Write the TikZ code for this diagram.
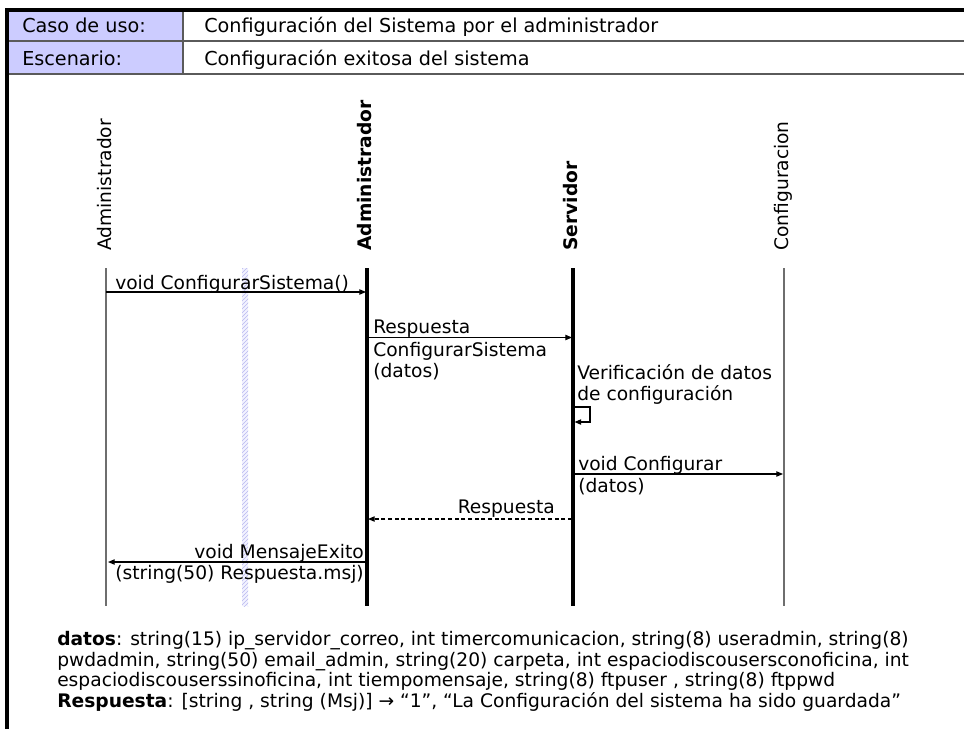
\documentclass[tikz,border=0pt]{standalone}
\usepackage{fontspec}
\setmainfont{DejaVu Sans}
\usetikzlibrary{arrows.meta,patterns}
\definecolor{hdrfill}{RGB}{204,204,255}
\definecolor{rulegray}{RGB}{90,90,90}
\definecolor{lifegray}{RGB}{110,110,110}
\definecolor{hatchblue}{RGB}{185,185,240}
\begin{document}
\begin{tikzpicture}[x=0.75pt,y=-0.75pt,
  txt/.style={inner sep=0pt,font=\fontsize{14}{16}\selectfont},
  hdr/.style={inner sep=0pt,font=\fontsize{14.4}{16}\selectfont,anchor=base west},
  lbl/.style={txt,rotate=90,anchor=base west},
  thinlife/.style={draw=lifegray,line width=0.9pt},
  thicklife/.style={draw=black,line width=2.3pt},
  msg/.style={draw=black,line width=0.8pt,-{Triangle[length=5pt,width=4pt]}},
  reply/.style={msg,dash pattern=on 3pt off 2pt},
]
\useasboundingbox (0,0) rectangle (964,731);

% ---- header table ----
\fill[hdrfill] (8,11) rectangle (183,74);
\draw[rulegray,line width=1.2pt] (8,41) -- (964,41) (8,74) -- (964,74) (183,11) -- (183,74);
\draw[line width=3pt] (5.5,10) -- (964,10);
\draw[line width=3pt] (7,8.5) -- (7,729);
\node[hdr] (uclbl) at (22,33) {Caso de uso:};
\node[hdr] (ucval) at (204,33) {Configuración del Sistema por el administrador};
\node[hdr] (sclbl) at (22,66) {Escenario:};
\node[hdr] (scval) at (204,66) {Configuración exitosa del sistema};

% ---- lifeline heads ----
\node[lbl] (hAdminA) at (111,251) {Administrador};
\node[lbl,font=\fontsize{14}{16}\selectfont\bfseries] (hAdminB) at (371,251) {Administrador};
\node[lbl,font=\fontsize{14}{16}\selectfont\bfseries] (hServ) at (577,251) {Servidor};
\node[lbl] (hConf) at (788,251) {Configuracion};

% ---- lifelines ----
\coordinate (tA) at (106,268); \coordinate (bA) at (106,606);
\coordinate (tB) at (367,268); \coordinate (bB) at (367,606);
\coordinate (tS) at (573,268); \coordinate (bS) at (573,606);
\coordinate (tC) at (784,268); \coordinate (bC) at (784,606);
\fill[blue!5] (242,268) rectangle (248,606);
\fill[pattern=north east lines,pattern color=hatchblue] (242,268) rectangle (248,606);
\draw[thinlife] (tA) -- (bA);
\draw[thinlife] (tC) -- (bC);
\draw[thicklife] (tB) -- (bB);
\draw[thicklife] (tS) -- (bS);

% ---- messages ----
\coordinate (m1s) at (106,292); \coordinate (m1e) at (366,292);
\draw[msg] (m1s) -- (m1e);
\node[txt,anchor=base west] (m1t) at (115,289) {void ConfigurarSistema()};

\coordinate (m2s) at (368,337.5); \coordinate (m2e) at (572,337.5);
\draw[msg] (m2s) -- (m2e);
\node[txt,anchor=base west] (m2a) at (373,333) {Respuesta};
\node[txt,anchor=base west] (m2b) at (373,356) {ConfigurarSistema};
\node[txt,anchor=base west] (m2c) at (373,377) {(datos)};

\node[txt,anchor=base west] (m3a) at (577,379) {Verificación de datos};
\node[txt,anchor=base west] (m3b) at (577,400) {de configuración};
\coordinate (m3s) at (574.5,407); \coordinate (m3e) at (574.5,422);
\draw[msg] (m3s) -- (590,407) -- (590,422) -- (m3e);

\coordinate (m4s) at (574,474); \coordinate (m4e) at (783,474);
\draw[msg] (m4s) -- (m4e);
\node[txt,anchor=base west] (m4a) at (578,470) {void Configurar};
\node[txt,anchor=base west] (m4b) at (578,492) {(datos)};

\coordinate (m5s) at (572,519); \coordinate (m5e) at (368,519);
\draw[reply] (m5s) -- (m5e);
\node[txt,anchor=base east] (m5t) at (555,513) {Respuesta};

\coordinate (m6s) at (366,562); \coordinate (m6e) at (108,562);
\draw[msg] (m6s) -- (m6e);
\node[txt,anchor=base east] (m6a) at (364,558) {void MensajeExito};
\node[txt,anchor=base east] (m6b) at (364,579) {(string(50) Respuesta.msj)};

% ---- data description ----
\node[txt,anchor=base west] (d1) at (57,645) {\textbf{datos}: string(15) ip\_servidor\_correo, int timercomunicacion, string(8) useradmin, string(8)};
\node[txt,anchor=base west] (d2) at (57,666) {pwdadmin, string(50) email\_admin, string(20) carpeta, int espaciodiscousersconoficina, int};
\node[txt,anchor=base west] (d3) at (57,686) {espaciodiscouserssinoficina, int tiempomensaje, string(8) ftpuser , string(8) ftppwd};
\node[txt,anchor=base west] (d4) at (57,707) {\textbf{Respuesta}: [string , string (Msj)] → “1”, “La Configuración del sistema ha sido guardada”};
\end{tikzpicture}
\end{document}
